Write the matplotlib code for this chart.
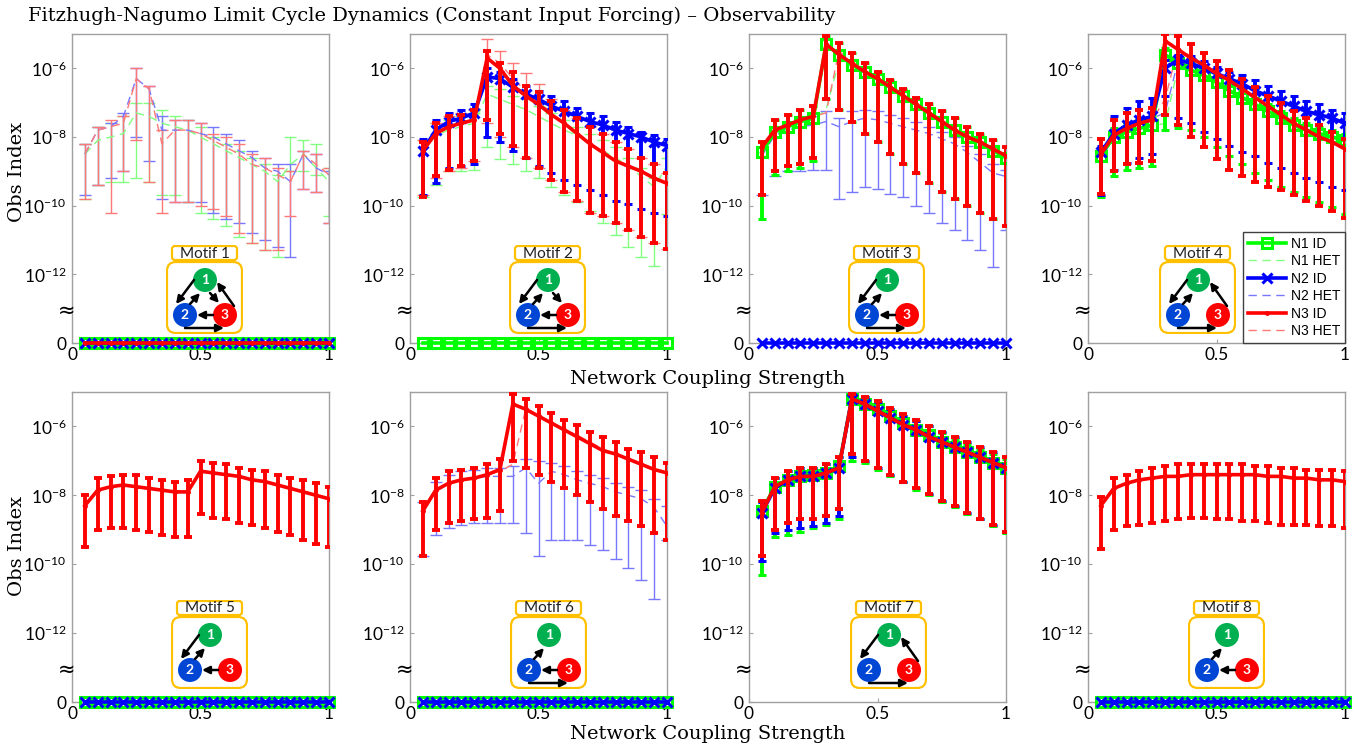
import numpy as np
import matplotlib
matplotlib.use('Agg')
import matplotlib.pyplot as plt
import matplotlib.transforms as mtransforms
from matplotlib.lines import Line2D
from matplotlib.ticker import NullLocator
from matplotlib.patches import FancyBboxPatch, Circle, FancyArrowPatch

plt.rcParams['font.family'] = ['Lato', 'DejaVu Sans']
plt.rcParams['mathtext.fontset'] = 'custom'
plt.rcParams['mathtext.rm'] = 'Lato'
plt.rcParams['mathtext.it'] = 'Lato:italic'
plt.rcParams['mathtext.bf'] = 'Lato:bold'

# network coupling strength grid
coupling = [0.05, 0.10, 0.15, 0.20, 0.25, 0.30, 0.35, 0.40, 0.45, 0.50,
            0.55, 0.60, 0.65, 0.70, 0.75, 0.80, 0.85, 0.90, 0.95, 1.00]

# all values below are log10(Obs Index); *_hi / *_lo are error bar ends

# motif 1 (identical nodes unobservable, only heterogeneous curves)
m1_n1_het = [-8.5, -8.1, -8.0, -7.9, -7.3, -7.4, -7.6, -7.7, -7.8, -8.0, -8.2, -8.4, -8.6, -8.8, -9.0, -9.3, -8.8, -8.5, -8.9, -9.3]
m1_n1_het_hi = [-8.2, -7.7, -7.6, -7.4, -7.0, -7.0, -7.2, -7.4, -7.5, -7.7, -8.0, -8.2, -8.4, -8.6, -8.8, -9.1, -8.0, -8.1, -8.2, -8.9]
m1_n1_het_lo = [-9.8, -9.4, -9.3, -9.3, -9.2, -9.3, -9.7, -9.7, -9.9, -10.2, -10.4, -10.6, -10.9, -11.1, -11.3, -11.5, -9.0, -9.0, -9.1, -10.3]
m1_n2_het = [-8.5, -7.8, -7.7, -7.4, -6.3, -6.6, -7.8, -7.8, -7.8, -7.9, -8.0, -8.2, -8.4, -8.6, -8.9, -9.0, -9.3, -8.5, -8.9, -9.1]
m1_n2_het_hi = [-8.2, -7.7, -7.6, -7.3, -6.0, -6.5, -7.4, -7.5, -7.5, -7.6, -7.7, -7.9, -8.1, -8.4, -8.6, -8.8, -8.8, -8.4, -8.5, -9.0]
m1_n2_het_lo = [-9.7, -9.4, -9.2, -9.0, -8.0, -8.7, -9.8, -9.9, -9.9, -9.9, -10.2, -10.4, -10.5, -10.8, -11.0, -11.2, -11.5, -9.5, -9.6, -10.5]
m1_n3_het = [-8.5, -7.8, -7.7, -7.6, -6.3, -6.6, -8.2, -7.8, -7.8, -7.9, -8.1, -8.3, -8.5, -8.8, -8.9, -9.1, -9.3, -8.5, -8.8, -9.1]
m1_n3_het_hi = [-8.2, -7.7, -7.5, -7.4, -6.0, -6.5, -7.8, -7.5, -7.5, -7.6, -7.9, -8.0, -8.2, -8.5, -8.6, -8.9, -9.0, -8.4, -8.5, -8.9]
m1_n3_het_lo = [-9.8, -9.4, -10.2, -9.0, -8.1, -9.3, -10.2, -9.9, -9.9, -10.0, -10.1, -10.3, -10.8, -11.1, -11.3, -11.3, -10.3, -9.5, -9.6, -10.5]

# motif 2
m2_n1_het = [-8.45, -7.95, -7.8, -7.7, -7.6, -6.75, -6.9, -7.05, -7.2, -7.4, -7.6, -7.8, -7.95, -8.2, -8.4, -8.6, -8.85, -9.15, -9.45, -8.85]
m2_n1_het_hi = [-8.1, -7.6, -7.5, -7.4, -7.3, -6.5, -6.6, -6.8, -6.9, -7.1, -7.3, -7.5, -7.7, -7.9, -8.1, -8.3, -8.6, -8.9, -9.2, -8.6]
m2_n1_het_lo = [-9.75, -9.4, -9.0, -9.0, -8.95, -8.3, -8.65, -8.8, -9.0, -9.2, -9.45, -9.7, -9.9, -10.15, -10.5, -10.85, -11.2, -11.5, -11.75, -10.25]
m2_n2_id = [-8.4, -7.8, -7.55, -7.45, -7.3, -6.25, -6.3, -6.55, -6.75, -6.9, -7.1, -7.25, -7.4, -7.55, -7.65, -7.8, -7.9, -8.0, -8.15, -8.25]
m2_n2_id_hi = [-8.05, -7.5, -7.3, -7.2, -7.05, -6.0, -6.1, -6.3, -6.5, -6.65, -6.8, -6.95, -7.15, -7.3, -7.4, -7.55, -7.7, -7.85, -7.95, -8.05]
m2_n2_id_lo = [-9.7, -9.35, -8.9, -8.85, -8.8, -8.0, -8.15, -8.4, -8.6, -8.85, -9.05, -9.25, -9.4, -9.55, -9.7, -9.85, -9.95, -10.1, -10.2, -10.3]
m2_n3_id = [-8.4, -7.9, -7.7, -7.6, -7.5, -5.7, -6.0, -6.5, -6.8, -7.05, -7.35, -7.6, -7.9, -8.2, -8.45, -8.7, -8.85, -9.0, -9.2, -9.35]
m2_n3_id_hi = [-8.15, -7.6, -7.4, -7.35, -7.2, -5.5, -5.85, -6.1, -6.5, -6.7, -6.95, -7.2, -7.45, -7.7, -7.9, -8.15, -8.35, -8.6, -8.8, -9.05]
m2_n3_id_lo = [-9.75, -9.15, -8.95, -8.85, -8.7, -7.5, -7.9, -8.25, -8.6, -8.9, -9.25, -9.6, -9.85, -10.2, -10.3, -10.5, -10.7, -10.9, -11.1, -11.25]
m2_n3_het = [-8.4, -7.9, -7.7, -7.6, -7.5, -5.6, -5.85, -6.3, -6.65, -6.95, -7.3, -7.6, -7.9, -8.2, -8.45, -8.7, -8.9, -9.0, -9.2, -9.35]
m2_n3_het_hi = [-8.1, -7.6, -7.4, -7.3, -7.2, -5.15, -5.5, -5.85, -6.15, -6.45, -6.9, -7.2, -7.45, -7.7, -7.9, -8.15, -8.35, -8.6, -8.8, -9.05]
m2_n3_het_lo = [-9.7, -9.2, -9.0, -8.9, -8.7, -7.6, -8.0, -8.3, -8.6, -8.9, -9.25, -9.6, -9.85, -10.2, -10.3, -10.5, -10.7, -10.9, -11.1, -11.25]

# motif 3
m3_n1_id = [-8.45, -7.85, -7.7, -7.55, -7.45, -5.3, -5.6, -5.9, -6.1, -6.3, -6.55, -6.8, -7.05, -7.3, -7.55, -7.8, -8.0, -8.15, -8.4, -8.6]
m3_n1_id_hi = [-8.15, -7.5, -7.35, -7.2, -7.1, -5.05, -5.25, -5.55, -5.85, -6.1, -6.35, -6.6, -6.85, -7.05, -7.25, -7.45, -7.7, -7.9, -8.1, -8.3]
m3_n1_id_lo = [-10.4, -9.1, -9.0, -8.9, -8.7, -6.9, -7.2, -7.55, -7.9, -8.15, -8.5, -8.8, -9.05, -9.35, -9.6, -9.8, -10.0, -10.2, -10.4, -10.6]
m3_n3_id = [-8.3, -7.8, -7.65, -7.5, -7.4, -5.3, -5.6, -5.85, -6.1, -6.3, -6.55, -6.8, -7.05, -7.3, -7.55, -7.8, -8.0, -8.15, -8.35, -8.55]
m3_n3_id_hi = [-8.15, -7.5, -7.35, -7.2, -7.1, -5.05, -5.25, -5.55, -5.85, -6.1, -6.35, -6.6, -6.85, -7.05, -7.25, -7.45, -7.7, -7.9, -8.1, -8.3]
m3_n3_id_lo = [-9.7, -9.0, -8.85, -8.8, -8.6, -6.9, -7.2, -7.55, -7.9, -8.15, -8.5, -8.8, -9.05, -9.35, -9.6, -9.8, -10.0, -10.2, -10.4, -10.6]
m3_n1_het = [-8.5, -7.9, -7.75, -7.6, -7.5, -7.2, -5.8, -5.95, -6.15, -6.35, -6.6, -6.85, -7.1, -7.35, -7.6, -7.85, -8.05, -8.2, -8.45, -8.65]
m3_n2_het = [-8.55, -7.95, -7.8, -7.7, -7.65, -7.55, -7.7, -7.55, -7.45, -7.5, -7.6, -7.7, -7.8, -7.9, -8.05, -8.2, -8.45, -8.75, -9.05, -9.15]
m3_n2_het_hi = [-8.3, -7.7, -7.55, -7.45, -7.4, -7.25, -7.45, -7.25, -7.2, -7.25, -7.35, -7.45, -7.55, -7.7, -7.85, -8.0, -8.25, -8.5, -8.8, -8.95]
m3_n2_het_lo = [-9.7, -9.15, -9.0, -9.0, -8.95, -8.95, -9.8, -9.6, -9.45, -9.5, -9.65, -9.75, -10.0, -10.2, -10.5, -10.7, -11.0, -11.3, -11.8, -10.7]
m3_n3_het = [-8.3, -7.8, -7.6, -7.5, -7.4, -7.3, -5.5, -5.8, -6.05, -6.25, -6.5, -6.75, -7.0, -7.25, -7.5, -7.75, -7.95, -8.1, -8.3, -8.5]

# motif 4
m4_n1_id = [-8.55, -8.0, -7.85, -7.75, -7.65, -5.6, -5.85, -6.05, -6.2, -6.4, -6.65, -6.85, -7.05, -7.25, -7.45, -7.65, -7.8, -7.9, -8.0, -8.1]
m4_n1_id_hi = [-8.35, -7.75, -7.6, -7.5, -7.4, -5.4, -5.65, -5.85, -6.0, -6.2, -6.45, -6.65, -6.85, -7.05, -7.25, -7.45, -7.6, -7.7, -7.8, -7.9]
m4_n1_id_lo = [-9.75, -9.15, -8.95, -8.9, -8.85, -7.8, -7.75, -7.8, -8.0, -8.3, -8.55, -8.8, -9.05, -9.25, -9.45, -9.6, -9.75, -9.9, -10.05, -10.25]
m4_n2_id = [-8.45, -7.9, -7.65, -7.5, -7.4, -6.0, -5.75, -5.85, -6.0, -6.15, -6.3, -6.45, -6.65, -6.8, -6.95, -7.1, -7.25, -7.35, -7.45, -7.6]
m4_n2_id_hi = [-8.25, -7.4, -7.15, -6.95, -6.85, -5.75, -5.6, -5.65, -5.8, -5.95, -6.1, -6.2, -6.35, -6.5, -6.65, -6.8, -6.95, -7.05, -7.2, -7.3]
m4_n2_id_lo = [-9.7, -8.95, -8.75, -8.6, -8.5, -6.8, -7.45, -7.6, -7.85, -8.05, -8.25, -8.45, -8.55, -8.75, -8.9, -9.05, -9.2, -9.3, -9.45, -9.55]
m4_n3_id = [-8.5, -7.95, -7.75, -7.6, -7.5, -5.2, -5.45, -5.7, -5.9, -6.15, -6.35, -6.6, -6.85, -7.1, -7.35, -7.6, -7.8, -8.0, -8.15, -8.35]
m4_n3_id_hi = [-8.05, -7.5, -7.3, -7.2, -7.15, -5.0, -5.05, -5.3, -5.55, -5.8, -6.05, -6.3, -6.55, -6.8, -7.0, -7.25, -7.45, -7.65, -7.85, -8.05]
m4_n3_id_lo = [-9.65, -9.0, -8.8, -8.75, -8.7, -7.35, -7.65, -8.0, -8.3, -8.65, -8.95, -9.15, -9.3, -9.45, -9.55, -9.7, -9.85, -10.0, -10.15, -10.35]
m4_n1_het = [-8.55, -8.05, -7.9, -7.8, -7.7, -7.6, -6.0, -6.1, -6.25, -6.45, -6.7, -6.9, -7.1, -7.3, -7.5, -7.7, -7.85, -7.95, -8.05, -8.15]
m4_n2_het = [-8.45, -7.9, -7.7, -7.55, -7.45, -7.3, -5.8, -5.9, -6.05, -6.2, -6.35, -6.5, -6.7, -6.85, -7.0, -7.15, -7.3, -7.4, -7.5, -7.65]
m4_n3_het = [-8.5, -7.95, -7.75, -7.6, -7.5, -6.9, -5.4, -5.65, -5.9, -6.15, -6.35, -6.6, -6.85, -7.1, -7.35, -7.6, -7.8, -8.0, -8.15, -8.35]

# motif 5
m5_n3_id = [-8.3, -7.85, -7.75, -7.7, -7.75, -7.8, -7.85, -7.9, -7.9, -7.3, -7.35, -7.4, -7.45, -7.55, -7.6, -7.7, -7.8, -7.9, -8.0, -8.1]
m5_n3_id_hi = [-8.0, -7.5, -7.45, -7.4, -7.4, -7.5, -7.55, -7.6, -7.55, -7.0, -7.05, -7.1, -7.2, -7.25, -7.3, -7.4, -7.5, -7.55, -7.65, -7.75]
m5_n3_id_lo = [-9.5, -9.0, -8.95, -8.95, -9.0, -9.05, -9.15, -9.2, -9.2, -8.55, -8.65, -8.7, -8.8, -8.85, -8.95, -9.05, -9.15, -9.3, -9.4, -9.5]

# motif 6
m6_n3_id = [-8.45, -7.85, -7.65, -7.55, -7.5, -7.4, -7.25, -5.35, -5.5, -5.7, -5.9, -6.1, -6.3, -6.5, -6.7, -6.8, -6.95, -7.1, -7.25, -7.35]
m6_n3_id_hi = [-8.2, -7.5, -7.3, -7.25, -7.2, -7.1, -6.95, -5.05, -5.2, -5.4, -5.6, -5.8, -5.95, -6.15, -6.3, -6.45, -6.65, -6.75, -6.9, -7.05]
m6_n3_id_lo = [-9.75, -9.0, -8.8, -8.75, -8.7, -8.65, -8.45, -7.0, -7.2, -7.4, -7.6, -7.8, -8.0, -8.2, -8.4, -8.6, -8.75, -8.9, -9.1, -9.3]
m6_n2_het = [-8.45, -7.9, -7.65, -7.55, -7.5, -7.45, -7.45, -7.45, -7.2, -7.65, -7.3, -7.4, -7.55, -7.65, -7.75, -7.9, -8.0, -8.1, -8.35, -8.9]
m6_n2_het_hi = [-8.2, -7.6, -7.4, -7.3, -7.25, -7.2, -7.2, -7.15, -6.95, -7.0, -7.05, -7.15, -7.3, -7.4, -7.5, -7.65, -7.75, -7.85, -8.1, -8.3]
m6_n2_het_lo = [-9.75, -9.15, -8.95, -8.85, -8.8, -8.8, -8.8, -8.8, -9.1, -9.75, -9.3, -9.3, -9.3, -9.45, -9.6, -9.85, -10.1, -10.45, -11.0, -9.3]
m6_n3_het = [-8.45, -7.85, -7.65, -7.55, -7.5, -7.4, -7.3, -7.1, -5.5, -5.7, -5.9, -6.1, -6.25, -6.45, -6.65, -6.8, -6.95, -7.1, -7.25, -7.35]

# motif 7
m7_n1_id = [-8.45, -7.75, -7.55, -7.45, -7.4, -7.35, -7.15, -5.2, -5.35, -5.5, -5.7, -5.9, -6.1, -6.25, -6.45, -6.6, -6.75, -6.9, -7.05, -7.2]
m7_n1_id_hi = [-8.2, -7.5, -7.3, -7.2, -7.2, -7.1, -6.9, -5.05, -5.15, -5.3, -5.5, -5.7, -5.85, -6.0, -6.2, -6.35, -6.5, -6.65, -6.8, -6.95]
m7_n1_id_lo = [-10.3, -9.2, -9.15, -9.05, -8.95, -8.85, -8.7, -7.0, -7.05, -7.25, -7.45, -7.6, -7.85, -8.0, -8.2, -8.35, -8.55, -8.7, -8.9, -9.1]
m7_n2_id = [-8.5, -7.8, -7.55, -7.45, -7.45, -7.35, -7.2, -5.2, -5.35, -5.55, -5.75, -5.95, -6.1, -6.3, -6.45, -6.6, -6.75, -6.9, -7.05, -7.2]
m7_n2_id_hi = [-8.2, -7.5, -7.3, -7.2, -7.2, -7.1, -6.9, -5.05, -5.15, -5.3, -5.5, -5.7, -5.85, -6.0, -6.15, -6.3, -6.45, -6.6, -6.75, -6.9]
m7_n2_id_lo = [-9.9, -9.1, -9.0, -8.95, -8.9, -8.8, -8.6, -6.9, -7.0, -7.2, -7.4, -7.6, -7.8, -7.95, -8.15, -8.3, -8.5, -8.7, -8.85, -9.05]
m7_n3_id = [-8.5, -7.75, -7.55, -7.45, -7.45, -7.35, -7.2, -5.2, -5.35, -5.55, -5.75, -5.95, -6.1, -6.3, -6.45, -6.6, -6.75, -6.9, -7.05, -7.2]
m7_n3_id_hi = [-8.15, -7.5, -7.3, -7.2, -7.2, -7.1, -6.9, -5.05, -5.15, -5.25, -5.45, -5.65, -5.8, -6.0, -6.15, -6.3, -6.45, -6.6, -6.75, -6.9]
m7_n3_id_lo = [-9.75, -9.0, -8.8, -8.7, -8.7, -8.6, -8.4, -6.8, -7.0, -7.2, -7.4, -7.6, -7.8, -7.95, -8.15, -8.3, -8.5, -8.7, -8.85, -9.05]

# motif 8
m8_n3_id = [-8.3, -7.8, -7.65, -7.55, -7.5, -7.45, -7.45, -7.4, -7.4, -7.4, -7.4, -7.4, -7.4, -7.45, -7.45, -7.5, -7.5, -7.55, -7.55, -7.6]
m8_n3_id_hi = [-8.05, -7.5, -7.4, -7.3, -7.2, -7.15, -7.1, -7.1, -7.1, -7.1, -7.1, -7.1, -7.15, -7.15, -7.2, -7.2, -7.25, -7.25, -7.25, -7.3]
m8_n3_id_lo = [-9.55, -9.0, -8.9, -8.85, -8.8, -8.75, -8.7, -8.65, -8.65, -8.7, -8.7, -8.75, -8.75, -8.8, -8.85, -8.85, -8.85, -8.9, -8.9, -8.95]

# nodes whose identical-case index is exactly zero (drawn on the "0" row)
unobservable = {1: ['n1', 'n2', 'n3'], 2: ['n1'], 3: ['n2'], 4: [],
                5: ['n1', 'n2'], 6: ['n1', 'n2'], 7: [], 8: ['n1', 'n2']}

# directed edges of each three-node motif
motif_edges = {
    1: [(1, 2), (2, 1), (1, 3), (3, 1), (3, 2), (2, 3)],
    2: [(1, 2), (2, 1), (1, 3), (3, 2), (2, 3)],
    3: [(1, 2), (2, 1), (3, 2), (2, 3)],
    4: [(1, 2), (2, 1), (3, 1), (2, 3)],
    5: [(1, 2), (2, 1), (3, 2)],
    6: [(2, 1), (3, 2), (2, 3)],
    7: [(1, 2), (3, 1), (2, 3)],
    8: [(2, 1), (3, 2)],
}

panels = {
    1: {'id': [], 'het': [('n1', m1_n1_het, m1_n1_het_hi, m1_n1_het_lo),
                          ('n2', m1_n2_het, m1_n2_het_hi, m1_n2_het_lo),
                          ('n3', m1_n3_het, m1_n3_het_hi, m1_n3_het_lo)]},
    2: {'id': [('n2', m2_n2_id, m2_n2_id_hi, m2_n2_id_lo),
               ('n3', m2_n3_id, m2_n3_id_hi, m2_n3_id_lo)],
        'het': [('n1', m2_n1_het, m2_n1_het_hi, m2_n1_het_lo),
                ('n3', m2_n3_het, m2_n3_het_hi, m2_n3_het_lo)]},
    3: {'id': [('n1', m3_n1_id, m3_n1_id_hi, m3_n1_id_lo),
               ('n3', m3_n3_id, m3_n3_id_hi, m3_n3_id_lo)],
        'het': [('n1', m3_n1_het, None, None),
                ('n2', m3_n2_het, m3_n2_het_hi, m3_n2_het_lo),
                ('n3', m3_n3_het, None, None)]},
    4: {'id': [('n1', m4_n1_id, m4_n1_id_hi, m4_n1_id_lo),
               ('n2', m4_n2_id, m4_n2_id_hi, m4_n2_id_lo),
               ('n3', m4_n3_id, m4_n3_id_hi, m4_n3_id_lo)],
        'het': [('n1', m4_n1_het, None, None), ('n2', m4_n2_het, None, None),
                ('n3', m4_n3_het, None, None)]},
    5: {'id': [('n3', m5_n3_id, m5_n3_id_hi, m5_n3_id_lo)], 'het': []},
    6: {'id': [('n3', m6_n3_id, m6_n3_id_hi, m6_n3_id_lo)],
        'het': [('n2', m6_n2_het, m6_n2_het_hi, m6_n2_het_lo),
                ('n3', m6_n3_het, None, None)]},
    7: {'id': [('n1', m7_n1_id, m7_n1_id_hi, m7_n1_id_lo),
               ('n2', m7_n2_id, m7_n2_id_hi, m7_n2_id_lo),
               ('n3', m7_n3_id, m7_n3_id_hi, m7_n3_id_lo)], 'het': []},
    8: {'id': [('n3', m8_n3_id, m8_n3_id_hi, m8_n3_id_lo)], 'het': []},
}

# ---- styles ----
ID_COLOR = {'n1': '#00ff00', 'n2': '#0000ff', 'n3': '#ff0000'}
HET_COLOR = {'n1': '#80ff80', 'n2': '#7878ff', 'n3': '#ff7878'}
ID_MARK = {'n1': dict(marker='s', ms=7.5, mfc='none', mew=2.2),
           'n2': dict(marker='x', ms=6.5, mew=2.2),
           'n3': dict(marker='.', ms=5)}
ID_Z = {'n1': 4, 'n2': 5, 'n3': 6}
NODE_COLOR = {1: '#00b050', 2: '#0046d5', 3: '#ff0000'}
NODE_XY = {1: (39, 54), 2: (19, 19), 3: (59, 19)}
EDGE_XY = {(1, 2): ((28, 54), (10, 30)), (2, 1): ((24, 30), (34, 41)),
           (1, 3): ((44, 41), (53, 31)), (3, 1): ((68, 28), (51, 52)),
           (3, 2): ((47, 19), (31, 19)), (2, 3): ((19, 6), (58, 6))}
SPINE = '#a0a0a0'
FLOOR = 1e-14
SERIF = 'DejaVu Serif'

W, H = 1372, 749
col_left = [72, 410, 749, 1088]
row_span = [(34, 343), (392, 702)]
motif_off = [94, 99, 99, 71, 99, 100, 101, 100]
AX_W = 257

fig = plt.figure(figsize=(W / 100, H / 100), dpi=100)
x = np.array(coupling)


def to_val(a):
    return 10.0 ** np.array(a)


def draw_motif(ax, k, off, bottom_px, h_px):
    iax = ax.inset_axes([off / AX_W, bottom_px / h_px, 77 / AX_W, 89 / h_px])
    iax.set_xlim(0, 77)
    iax.set_ylim(0, 89)
    iax.axis('off')
    iax.add_patch(FancyBboxPatch((1, 1), 75, 71, boxstyle='round,pad=0,rounding_size=9',
                                 fc='white', ec='#ffc000', lw=1.6))
    iax.add_patch(FancyBboxPatch((6, 74), 65, 14, boxstyle='round,pad=0,rounding_size=3',
                                 fc='white', ec='#ffc000', lw=1.6))
    iax.text(38.5, 80.5, f'Motif {k}', ha='center', va='center', fontsize=11, color='#202020')
    for n, (cx, cy) in NODE_XY.items():
        iax.add_patch(Circle((cx, cy), 12, fc=NODE_COLOR[n], ec='none', zorder=2))
        iax.text(cx, cy, str(n), ha='center', va='center', color='white',
                 fontsize=10, fontweight='bold', zorder=3)
    for e in motif_edges[k]:
        a, b = EDGE_XY[e]
        iax.add_patch(FancyArrowPatch(a, b, arrowstyle='-|>', mutation_scale=11, lw=1.8,
                                      color='black', shrinkA=0, shrinkB=0, zorder=4))


for k in range(1, 9):
    r, c = divmod(k - 1, 4)
    top, bot = row_span[r]
    h_px = bot - top
    ax = fig.add_axes([col_left[c] / W, (H - bot) / H, AX_W / W, h_px / H])
    ax.set_yscale('log')
    ax.set_xlim(0, 1)
    ax.set_ylim(FLOOR, 1e-5)

    spec = panels[k]
    for node, mean, hi, lo in spec['het']:
        m = to_val(mean)
        if hi is None:
            ax.plot(x, m, color=HET_COLOR[node], lw=1.0, ls=(0, (6, 4)), zorder=2)
        else:
            yerr = [m - to_val(lo), to_val(hi) - m]
            ax.errorbar(x, m, yerr=yerr, color=HET_COLOR[node], lw=1.0, ls=(0, (6, 4)),
                        elinewidth=1.0, capsize=4, capthick=1.0, zorder=2)
    for node, mean, hi, lo in spec['id']:
        m = to_val(mean)
        yerr = [m - to_val(lo), to_val(hi) - m]
        ax.errorbar(x, m, yerr=yerr, color=ID_COLOR[node], lw=2.6, elinewidth=2.8,
                    capsize=3, capthick=2.8, zorder=ID_Z[node], **ID_MARK[node])
    for node in unobservable[k]:
        ax.plot(x, np.full(len(x), FLOOR), color=ID_COLOR[node], lw=2.6,
                clip_on=False, zorder=ID_Z[node] + 3, **ID_MARK[node])

    ax.set_yticks([1e-14, 1e-12, 1e-10, 1e-8, 1e-6])
    ax.set_yticklabels(['0', r'$10^{-12}$', r'$10^{-10}$', r'$10^{-8}$', r'$10^{-6}$'])
    ax.yaxis.set_minor_locator(NullLocator())
    ax.set_xticks([0, 0.5, 1])
    ax.set_xticklabels(['0', '0.5', '1'])
    ax.tick_params(direction='in', length=3, color=SPINE, labelsize=12.5, pad=4)
    ax.tick_params(axis='x', pad=3)
    for s in ax.spines.values():
        s.set_color(SPINE)
        s.set_linewidth(1.0)
    trans = mtransforms.blended_transform_factory(ax.transAxes, ax.transData)
    ax.text(-0.02, 10 ** -13.05, '\u2248', transform=trans, ha='center', va='center',
            fontsize=15, family='DejaVu Sans', clip_on=False)

    draw_motif(ax, k, motif_off[k - 1], 9 if r == 0 else 13, h_px)

    if k == 4:
        handles = [
            Line2D([], [], color=ID_COLOR['n1'], lw=2.6, **ID_MARK['n1']),
            Line2D([], [], color=HET_COLOR['n1'], lw=1.0, ls=(0, (6, 4))),
            Line2D([], [], color=ID_COLOR['n2'], lw=2.6, **ID_MARK['n2']),
            Line2D([], [], color=HET_COLOR['n2'], lw=1.0, ls=(0, (6, 4))),
            Line2D([], [], color=ID_COLOR['n3'], lw=2.6, **ID_MARK['n3']),
            Line2D([], [], color=HET_COLOR['n3'], lw=1.0, ls=(0, (6, 4))),
        ]
        labels = ['N1 ID', 'N1 HET', 'N2 ID', 'N2 HET', 'N3 ID', 'N3 HET']
        leg = ax.legend(handles, labels, loc='lower right', borderaxespad=0,
                        fancybox=False, edgecolor='#404040', framealpha=1,
                        prop={'family': 'Liberation Sans', 'size': 10},
                        handlelength=2.8, labelspacing=0.25, handletextpad=0.3,
                        borderpad=0.35, numpoints=1)
        leg.set_zorder(20)

fig.text(28 / W, 1 - 16 / H, 'Fitzhugh-Nagumo Limit Cycle Dynamics (Constant Input Forcing) \u2013 Observability',
         ha='left', va='center', family=SERIF, fontsize=14)
for yc in (172, 546):
    fig.text(17 / W, 1 - yc / H, 'Obs Index', rotation=90, ha='center', va='center',
             family=SERIF, fontsize=14)
for yc in (379, 734):
    fig.text(708 / W, 1 - yc / H, 'Network Coupling Strength', ha='center', va='center',
             family=SERIF, fontsize=14)

fig.savefig('out.png', dpi=100)
